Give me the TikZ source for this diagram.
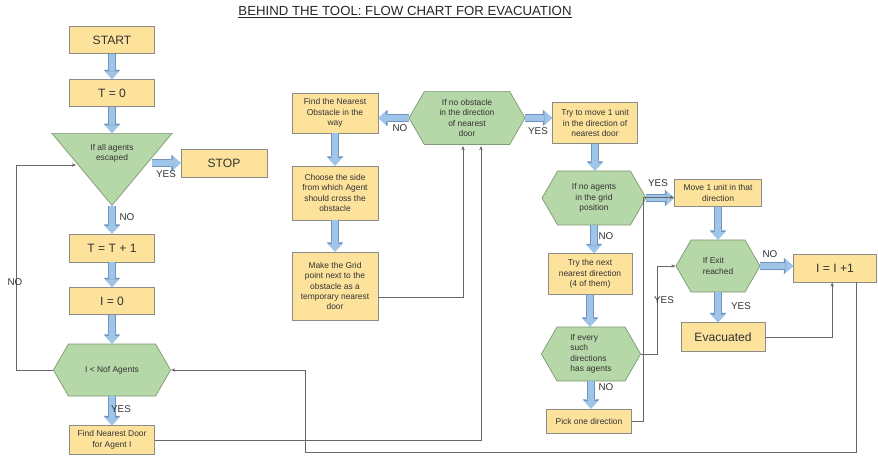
\documentclass[tikz,border=0pt]{standalone}
\usepackage{fontspec}
\setmainfont{Liberation Sans}
\usetikzlibrary{arrows.meta,shapes.geometric,shapes.symbols}

\definecolor{boxyellow}{HTML}{FCE29B}
\definecolor{boxedge}{HTML}{8C8C8C}
\definecolor{hexgreen}{HTML}{B6D7A8}
\definecolor{hexedge}{HTML}{7D9A72}
\definecolor{arrowblue}{HTML}{9FC5E8}
\definecolor{arrowedge}{HTML}{6F93C0}
\definecolor{linegray}{HTML}{666666}
\definecolor{txt}{HTML}{333333}

\newcommand{\smalltxt}{\fontsize{6}{7.4}\selectfont}
\newcommand{\bigtxt}{\fontsize{8.6}{10}\selectfont}

\tikzset{
	yellowbox/.style={draw=boxedge, fill=boxyellow, text=txt, align=center, inner sep=1pt, line width=0.5pt, font=\smalltxt},
	greenhex/.style={signal, signal to=east and west, signal pointer angle=120, draw=hexedge, fill=hexgreen, text=txt, align=center, inner sep=1pt, line width=0.5pt, font=\smalltxt},
	lbl/.style={font=\fontsize{7}{8}\selectfont, text=txt, inner sep=0pt},
	conn/.style={draw=linegray, line width=0.5pt, -{Stealth[length=3pt,width=2.4pt]}},
	blockarrow/.style={draw=arrowblue, line width=4.4pt, -{Triangle[width=10pt,length=5.4pt,line width=0pt]},
		preaction={draw=arrowedge, line width=5.6pt, -{Triangle[width=11.8pt,length=6.6pt,line width=0pt]}}}
}

\begin{document}
\begin{tikzpicture}[x=0.25mm,y=-0.25mm]
	\useasboundingbox (0,0) rectangle (878,456);
	
	\node[text=black!85, font=\fontsize{9.4}{11}\selectfont] (title) at (405,12) {\underline{BEHIND THE TOOL: FLOW CHART FOR EVACUATION}};
	
	% left column
	\node[yellowbox, font=\bigtxt, minimum width=21.3mm, minimum height=6.8mm] (start) at (112,40) {START};
	\node[yellowbox, font=\bigtxt, minimum width=21.3mm, minimum height=6.8mm] (t0) at (112,93) {T = 0};
	\node[isosceles triangle, isosceles triangle stretches, shape border rotate=270,
		minimum width=30mm, minimum height=18mm, draw=hexedge, fill=hexgreen, text=txt,
		align=center, inner sep=0pt, line width=0.5pt, font=\smalltxt, anchor=north] (esc) at (112,133) {If all agents\\escaped};
	\node[yellowbox, font=\bigtxt, minimum width=21.5mm, minimum height=7mm] (stop) at (224,163) {STOP};
	\node[yellowbox, font=\bigtxt, minimum width=21.3mm, minimum height=7mm] (tt1) at (112,248) {T = T + 1};
	\node[yellowbox, font=\bigtxt, minimum width=21.3mm, minimum height=6.8mm] (i0) at (112,301) {I = 0};
	\node[greenhex, minimum width=29.3mm, minimum height=13mm] (nof) at (112,370) {I {<} Nof Agents};
	\node[yellowbox, minimum width=21.3mm, minimum height=7.2mm] (door) at (112,440) {Find Nearest Door\\for Agent I};
	
	% middle column
	\node[yellowbox, minimum width=21.5mm, minimum height=10mm] (findobs) at (335,113) {Find the Nearest\\Obstacle in the\\way};
	\node[yellowbox, minimum width=21.5mm, minimum height=13.5mm] (choose) at (335,193) {Choose the side\\from which Agent\\should cross the\\obstacle};
	\node[yellowbox, minimum width=21.5mm, minimum height=17mm] (makegrid) at (335,286) {Make the Grid\\point next to the\\obstacle as a\\temporary nearest\\door};
	\node[greenhex, minimum width=29mm, minimum height=13.3mm] (obst) at (467,118) {If no obstacle\\in the direction\\of nearest\\door};
	
	% right columns
	\node[yellowbox, minimum width=21.3mm, minimum height=10.3mm] (trymove) at (595,123) {Try to move 1 unit\\in the direction of\\nearest door};
	\node[greenhex, minimum width=26mm, minimum height=13.5mm] (agents) at (594,198) {If no agents\\in the grid\\position};
	\node[yellowbox, minimum width=21mm, minimum height=10.3mm] (trynext) at (590,274) {Try the next\\nearest direction\\(4 of them)};
	\node[greenhex, align=left, minimum width=24.8mm, minimum height=13.5mm] (every) at (591,354) {If every\\such\\directions\\has agents};
	\node[yellowbox, minimum width=21.3mm, minimum height=6mm] (pick) at (589,421) {Pick one direction};
	
	\node[yellowbox, minimum width=21.8mm, minimum height=6.8mm] (move1) at (718,193) {Move 1 unit in that\\direction};
	\node[greenhex, align=left, minimum width=21mm, minimum height=13mm] (exit) at (718,266) {If Exit\\reached};
	\node[yellowbox, font=\bigtxt, minimum width=21mm, minimum height=7.2mm] (evac) at (723,337) {Evacuated};
	\node[yellowbox, font=\bigtxt, minimum width=20.8mm, minimum height=7mm] (iplus) at (835,268) {I = I +1};
	
	% block arrows
	\coordinate (escout) at (152,163);
	\foreach \a/\b in {start.south/t0.north, t0.south/esc.north, esc.south/tt1.north,
		tt1.south/i0.north, i0.south/nof.north, nof.south/door.north,
		findobs.south/choose.north, choose.south/makegrid.north,
		trymove.south/agents.north, agents.south/trynext.north, trynext.south/every.north,
		every.south/pick.north, move1.south/exit.north, exit.south/evac.north}
	\draw[blockarrow] (\a) -- (\a |- \b);
	\foreach \a/\b in {escout/stop.west, obst.west/findobs.east, obst.east/trymove.west,
		agents.east/move1.west, exit.east/iplus.west}
	\draw[blockarrow] (\a) -- (\a -| \b);
	
	% thin connectors
	\coordinate (escin) at (76,165);
	\draw[conn] (nof.west) -- ++(-37,0) |- (escin);
	\draw[conn] (door.east) -| (481,146);
	\draw[conn] ([yshift=-8pt]makegrid.east) -| (463,146);
	\draw[conn] ([xshift=15pt]iplus.south) |- (305,452) |- (nof.east);
	\draw[conn] (pick.east) -- ++(11,0) |- ([yshift=-3pt]move1.west);
	\draw[conn] (every.east) -- ++(16,0) |- (exit.west);
	\draw[conn] (evac.east) -| ([xshift=-2pt]iplus.south);
	
	% labels
	\node[lbl] (l1) at (166,174) {YES};
	\node[lbl] (l2) at (127,217) {NO};
	\node[lbl] (l3) at (15,282) {NO};
	\node[lbl] (l4) at (121,409) {YES};
	\node[lbl] (l5) at (400,128) {NO};
	\node[lbl] (l6) at (538,131) {YES};
	\node[lbl] (l7) at (658,183) {YES};
	\node[lbl] (l8) at (606,236) {NO};
	\node[lbl] (l9) at (606,387) {NO};
	\node[lbl] (l10) at (664,300) {YES};
	\node[lbl] (l11) at (770,254) {NO};
	\node[lbl] (l12) at (741,306) {YES};
\end{tikzpicture}
\end{document}
